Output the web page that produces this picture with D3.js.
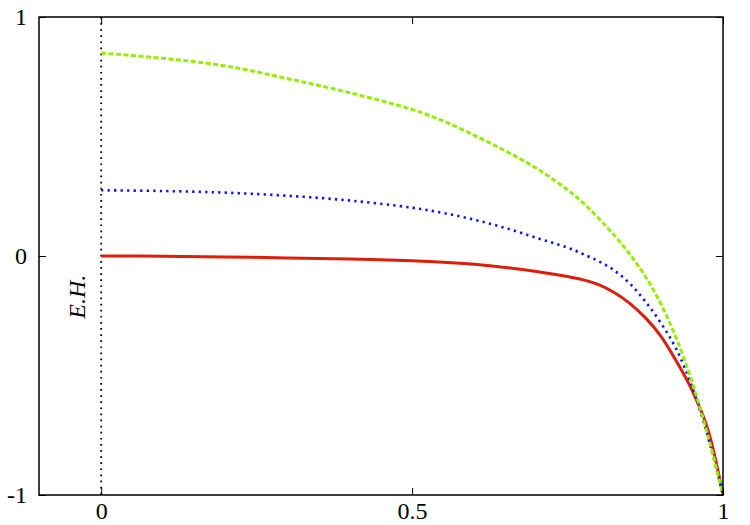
<!DOCTYPE html>
<html><head><meta charset="utf-8">
<script src="https://cdn.jsdelivr.net/npm/d3@7"></script>
<style>body{margin:0;background:#fff}svg{display:block}text{font-family:"Liberation Serif","Times New Roman",Times,serif}</style>
</head><body>
<svg id="c" width="750" height="525"></svg>
<script>
const xs     = [0, 0.1, 0.2, 0.3, 0.4, 0.5, 0.55, 0.6, 0.65, 0.7, 0.75, 0.775, 0.8, 0.825, 0.85, 0.875, 0.9, 0.925, 0.95, 0.975, 1];
const greenY = [0.849, 0.827, 0.795, 0.742, 0.683, 0.613, 0.565, 0.505, 0.44, 0.367, 0.277, 0.222, 0.158, 0.087, 0.008, -0.085, -0.2, -0.345, -0.525, -0.745, -1];
const blueY  = [0.275, 0.272, 0.265, 0.252, 0.232, 0.202, 0.18, 0.152, 0.117, 0.076, 0.035, 0.008, -0.022, -0.06, -0.115, -0.19, -0.28, -0.39, -0.545, -0.75, -1];
const redY   = [0, -0.001, -0.004, -0.008, -0.013, -0.02, -0.026, -0.035, -0.048, -0.065, -0.086, -0.1, -0.12, -0.153, -0.198, -0.258, -0.335, -0.44, -0.56, -0.72, -1];
const xTicks = [0, 0.5, 1];
const xTickLabels = ["0", "0.5", "1"];
const yTicks = [-1, 0, 1];
const yTickLabels = ["-1", "0", "1"];
const ehLabel = "E.H.";

const svg = d3.select("#c");
const L = 39, T = 17, W = 684, H = 478;
const x = d3.scaleLinear().domain([-0.1, 1]).range([L, L + W]);
const y = d3.scaleLinear().domain([-1, 1]).range([T + H, T]);
const font = "'Liberation Serif','Times New Roman',Times,serif";

// vertical dotted E.H. line
svg.append("line").attr("x1", x(0)).attr("x2", x(0)).attr("y1", y(1)).attr("y2", y(-1))
  .attr("stroke", "#000").attr("stroke-width", 1.8).attr("stroke-dasharray", "1.7,4.4");

const line = d3.line().x(d => x(d[0])).y(d => y(d[1])).curve(d3.curveCatmullRom.alpha(0.5));
const mk = ys => xs.map((v, i) => [v, ys[i]]);

svg.append("path").attr("d", line(mk(redY))).attr("fill", "none")
  .attr("stroke", "#dc1e0a").attr("stroke-width", 3);
svg.append("path").attr("d", line(mk(blueY))).attr("fill", "none")
  .attr("stroke", "#0a14f0").attr("stroke-width", 2.6).attr("stroke-dasharray", "2.3,4.2");
svg.append("path").attr("d", line(mk(greenY))).attr("fill", "none")
  .attr("stroke", "#94ee00").attr("stroke-width", 3).attr("stroke-dasharray", "5,2.5");

// frame
svg.append("rect").attr("x", L).attr("y", T).attr("width", W).attr("height", H)
  .attr("fill", "none").attr("stroke", "#000").attr("stroke-width", 1.5);

// axes with inward ticks (mirrored)
const tl = 7;
const xb = d3.axisBottom(x).tickValues(xTicks).tickSize(-tl).tickPadding(7).tickFormat((d, i) => xTickLabels[i]);
const gx = svg.append("g").attr("transform", `translate(0,${T + H})`).call(xb);
const xt = d3.axisTop(x).tickValues(xTicks).tickSize(-tl).tickFormat("");
const gxt = svg.append("g").attr("transform", `translate(0,${T})`).call(xt);
const yl = d3.axisLeft(y).tickValues(yTicks).tickSize(-tl).tickPadding(12).tickFormat((d, i) => yTickLabels[i]);
const gy = svg.append("g").attr("transform", `translate(${L},0)`).call(yl);
const yr = d3.axisRight(y).tickValues(yTicks).tickSize(-tl).tickFormat("");
const gyr = svg.append("g").attr("transform", `translate(${L + W},0)`).call(yr);
[gx, gxt, gy, gyr].forEach(g => {
  g.attr("font-family", null);
  g.select(".domain").remove();
  g.selectAll(".tick line").attr("stroke", "#000").attr("stroke-width", 1);
  g.selectAll("text").attr("font-family", font).attr("font-size", 24).attr("fill", "#000");
});
gx.selectAll("text").attr("dy", "0.71em");

// E.H. label
svg.append("text").attr("transform", `translate(85,${y(-0.17)}) rotate(-90)`)
  .attr("text-anchor", "middle").attr("font-family", font).attr("font-style", "italic")
  .attr("font-size", 24).text(ehLabel);
</script>
</body></html>
